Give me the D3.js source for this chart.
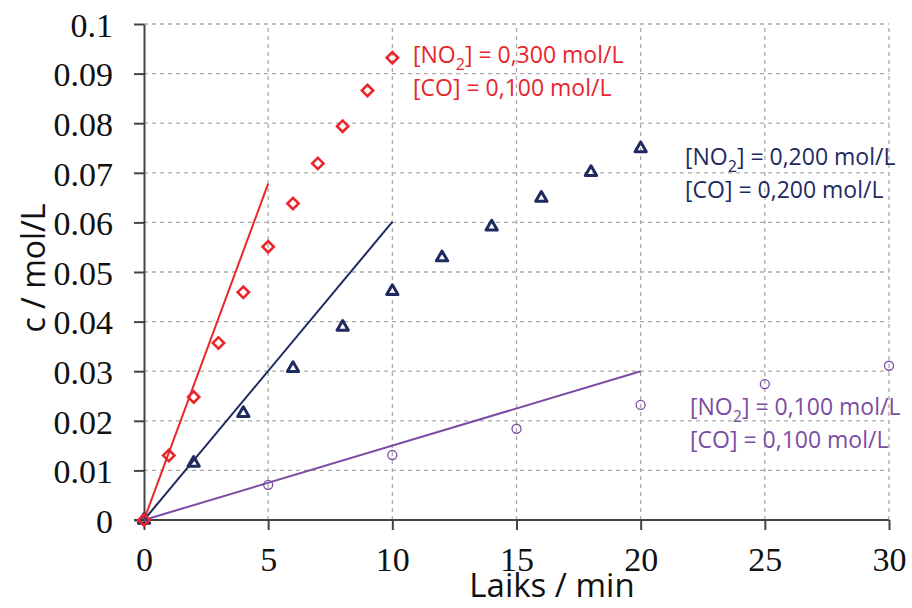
<!DOCTYPE html>
<html><head><meta charset="utf-8">
<script src="https://cdn.jsdelivr.net/npm/d3@7"></script>
<style>body{margin:0;background:#fff}svg{display:block}</style>
</head><body>
<svg id="c" width="912" height="608"></svg>
<script>
const xTicks = [0,5,10,15,20,25,30];
const yTicks = [0,0.01,0.02,0.03,0.04,0.05,0.06,0.07,0.08,0.09,0.1];
const yTickLabels = ["0","0.01","0.02","0.03","0.04","0.05","0.06","0.07","0.08","0.09","0.1"];

const redT = [0,1,2,3,4,5,6,7,8,9,10];
const redC = [0,0.0130,0.0248,0.0357,0.0459,0.0551,0.0638,0.0719,0.0794,0.0866,0.0932];
const redLine = [[0,0],[5,0.0678]];

const blueT = [0,2,4,6,8,10,12,14,16,18,20];
const blueC = [0,0.0115,0.0215,0.0306,0.0389,0.0461,0.0529,0.0591,0.0649,0.0701,0.0749];
const blueLine = [[0,0],[10,0.0601]];

const purpleT = [0,5,10,15,20,25,30];
const purpleC = [0,0.0071,0.0131,0.0184,0.0232,0.0274,0.0311];
const purpleLine = [[0,0],[20,0.0300]];

const legends = [
  {no2:"0,300", co:"0,100", color:"#e8262c", x:413, y:63},
  {no2:"0,200", co:"0,200", color:"#1f2a5f", x:685, y:165},
  {no2:"0,100", co:"0,100", color:"#7b4ca4", x:690, y:415}
];

const svg = d3.select("#c");
const x = d3.scaleLinear().domain([0,30]).range([144,889]);
const y = d3.scaleLinear().domain([0,0.1]).range([520,24]);
const axisColor = "#444";
const gridColor = "#aaa";

// grid
svg.append("g").selectAll("line").data(yTicks.slice(1)).join("line")
  .attr("x1", x(0)).attr("x2", x(30)).attr("y1", d=>y(d)).attr("y2", d=>y(d))
  .attr("stroke", gridColor).attr("stroke-width",1.3).attr("stroke-dasharray","4,4");
svg.append("g").selectAll("line").data(xTicks.slice(1)).join("line")
  .attr("x1", d=>x(d)).attr("x2", d=>x(d)).attr("y1", y(0)).attr("y2", y(0.1))
  .attr("stroke", gridColor).attr("stroke-width",1.3).attr("stroke-dasharray","4,4");

// axes
const xAxis = d3.axisBottom(x).tickValues(xTicks).tickSize(10).tickPadding(17).tickSizeOuter(0);
const gx = svg.append("g").attr("transform",`translate(0,${y(0)})`).call(xAxis);
gx.select(".domain").attr("d", `M${x(0)-10},0H${x(30)}`);
const yAxis = d3.axisLeft(y).tickValues(yTicks).tickFormat((d,i)=>yTickLabels[i]).tickSize(10).tickPadding(21).tickSizeOuter(0);
const gy = svg.append("g").attr("transform",`translate(${x(0)},0)`).call(yAxis);
[gx,gy].forEach(g=>{
  g.select(".domain").attr("stroke",axisColor).attr("stroke-width",2);
  g.selectAll(".tick line").attr("stroke",axisColor).attr("stroke-width",2);
  g.selectAll(".tick text").attr("fill","#111").style("font-family","'Liberation Serif', serif").style("font-size","34px");
});
gy.selectAll(".tick text").attr("dy","0.36em");

// axis titles
svg.append("text").attr("x",552).attr("y",597).attr("text-anchor","middle")
  .style("font-family","'Open Sans', sans-serif").style("font-size","33px").attr("fill","#111").text("Laiks / min");
svg.append("text").attr("transform","translate(45,268) rotate(-90)").attr("text-anchor","middle")
  .style("font-family","'Open Sans', sans-serif").style("font-size","32px").attr("fill","#111").text("c / mol/L");

// fit lines
const line = d3.line().x(d=>x(d[0])).y(d=>y(d[1]));
[[redLine,"#e8262c"],[blueLine,"#1f2a5f"],[purpleLine,"#7b4ca4"]].forEach(([d,c])=>{
  svg.append("path").attr("d",line(d)).attr("fill","none").attr("stroke",c).attr("stroke-width",2);
});

// markers
const purple = purpleT.map((t,i)=>[t,purpleC[i]]);
svg.append("g").selectAll("circle").data(purple).join("circle")
  .attr("cx",d=>x(d[0])).attr("cy",d=>y(d[1])).attr("r",4.5)
  .attr("fill","none").attr("stroke","#7b4ca4").attr("stroke-width",1.3);
const blue = blueT.map((t,i)=>[t,blueC[i]]);
const tri = d3.symbol().type(d3.symbolTriangle).size(55);
svg.append("g").selectAll("path").data(blue).join("path")
  .attr("transform",d=>`translate(${x(d[0])},${y(d[1])})`).attr("d",tri())
  .attr("fill","none").attr("stroke","#1f2a5f").attr("stroke-width",3).attr("stroke-linejoin","round");
const red = redT.map((t,i)=>[t,redC[i]]);
svg.append("g").selectAll("rect").data(red).join("rect")
  .attr("x",-4).attr("y",-4).attr("width",8).attr("height",8)
  .attr("transform",d=>`translate(${x(d[0])},${y(d[1])}) rotate(45)`)
  .attr("fill","none").attr("stroke","#e8262c").attr("stroke-width",2.6);

// legends
legends.forEach(l=>{
  const g = svg.append("g").style("font-family","'Open Sans', sans-serif").style("font-size","23px").attr("fill",l.color);
  const t1 = g.append("text").attr("x",l.x).attr("y",l.y);
  t1.append("tspan").text("[NO");
  t1.append("tspan").text("2").attr("dy",7).style("font-size","16px");
  t1.append("tspan").text("] = " + l.no2 + " mol/L").attr("dy",-7);
  g.append("text").attr("x",l.x).attr("y",l.y+33).text("[CO] = " + l.co + " mol/L");
});
</script>
</body></html>
